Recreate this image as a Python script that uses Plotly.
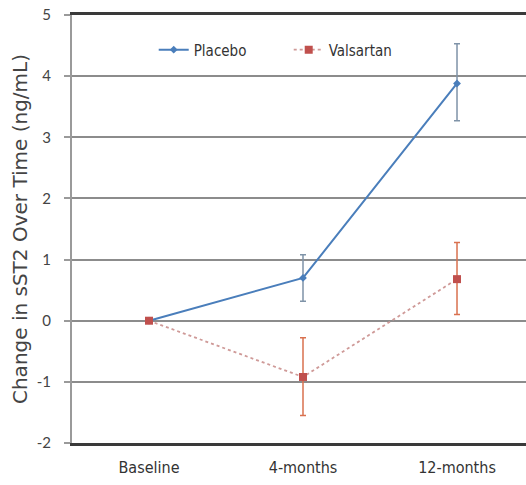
import plotly.graph_objects as go

# Time points and mean change in sST2 (ng/mL) with error bar limits
timepoints = ["Baseline", "4-months", "12-months"]

placebo_mean = [0.0, 0.70, 3.88]
placebo_err_plus = [0.0, 0.38, 0.65]
placebo_err_minus = [0.0, 0.38, 0.61]

valsartan_mean = [0.0, -0.92, 0.68]
valsartan_err_plus = [0.0, 0.64, 0.60]
valsartan_err_minus = [0.0, 0.63, 0.58]

y_ticks = [-2, -1, 0, 1, 2, 3, 4, 5]
y_tick_text = ["-2", "-1", "0", "1", "2", "3", "4", "5"]

narrow = "DejaVu Sans Condensed, Liberation Sans Narrow, sans-serif"
body = "Lato, Open Sans, sans-serif"

fig = go.Figure()

fig.add_trace(go.Scatter(
    x=timepoints, y=placebo_mean, name="Placebo",
    mode="lines+markers",
    line=dict(color="#4a7ebb", width=2),
    marker=dict(symbol="diamond", size=6, color="#4a7ebb"),
    error_y=dict(type="data", symmetric=False,
                 array=placebo_err_plus, arrayminus=placebo_err_minus,
                 color="#7f93a8", thickness=1.5, width=3),
))

fig.add_trace(go.Scatter(
    x=timepoints, y=valsartan_mean, name="Valsartan",
    mode="lines+markers",
    line=dict(color="#cf9a98", width=1.8, dash="dot"),
    marker=dict(symbol="square", size=8, color="#c0504d"),
    error_y=dict(type="data", symmetric=False,
                 array=valsartan_err_plus, arrayminus=valsartan_err_minus,
                 color="#d9714f", thickness=1.5, width=3),
))

fig.update_layout(
    width=526, height=485,
    margin=dict(l=72, r=0, t=15, b=42),
    paper_bgcolor="white", plot_bgcolor="white",
    showlegend=True,
    legend=dict(orientation="h", x=0.18, y=0.957, xanchor="left", yanchor="top",
                font=dict(family=narrow, size=15, color="#333"),
                bgcolor="rgba(0,0,0,0)", itemwidth=30,
                entrywidth=90, entrywidthmode="pixels"),
    font=dict(family=body, color="#444"),
)

# Dark frame along the bottom (and mirrored at the top) of the plot area
fig.update_xaxes(
    type="category", range=[-0.5, 2.448],
    showgrid=False, zeroline=False,
    showline=True, mirror=True, linecolor="#3a3a3a", linewidth=3,
    ticks="",
    ticklabelstandoff=8,
    tickfont=dict(family=narrow, size=16, color="#333"),
)

fig.update_yaxes(
    range=[-2, 5], tickvals=y_ticks, ticktext=y_tick_text,
    showgrid=True, gridcolor="#8c8c8c", gridwidth=2,
    zeroline=False,
    showline=True, linecolor="#9a9a9a", linewidth=2,
    ticks="outside", ticklen=6, tickcolor="#9a9a9a", tickwidth=2,
    ticklabelstandoff=10,
    tickfont=dict(family=body, size=15, color="#444"),
    title=dict(text="Change in sST2 Over Time (ng/mL)",
               font=dict(family="DejaVu Sans, sans-serif", size=20, color="#444"),
               standoff=4),
)

fig.write_html("out.html")
